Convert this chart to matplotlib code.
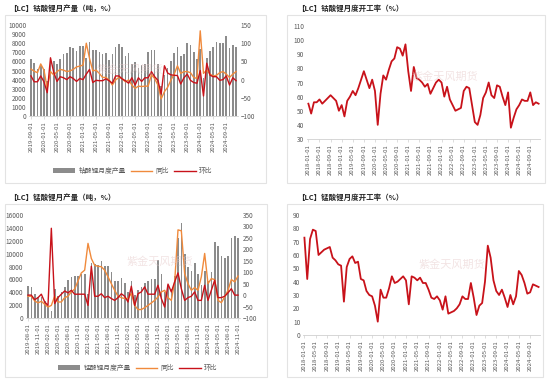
import matplotlib
matplotlib.use("Agg")
import matplotlib.pyplot as plt
from matplotlib.patches import Rectangle, Patch
from matplotlib.lines import Line2D
import numpy as np
import pandas as pd

plt.rcParams['font.family'] = ['Noto Sans CJK SC', 'DejaVu Sans']

# ---------------- data ----------------
# Top-left: cobalt (LCO) monthly production (t), YoY %, MoM %  2019-09 .. 2024-12
co_prod = [6300, 5800, 5200, 5600, 5200, 3900, 6100, 6000, 5700, 6300, 6800, 6900,
           7600, 7500, 7100, 7700, 7700, 6400, 8100, 7300, 7200, 7000, 6800, 6900,
           6200, 6800, 7600, 7900, 7600, 6600, 6900, 5700, 5900, 5300, 5600, 5700,
           7000, 7300, 7200, 5700, 3300, 4500, 5300, 6000, 6900, 7600, 6600, 6800,
           8000, 7800, 7000, 6300, 7400, 4200, 6400, 7100, 7600, 8100, 8000, 8000,
           8800, 7500, 7800, 7600]
co_yoy = [29, 23, 19, 43, 26, -24, 22, 13, 22, 28, 26, 22,
          24, 28, 35, 37, 40, 100, 58, 24, 26, 17, 6, 6,
          -1, -15, -1, 6, 3, -6, -1, -15, -24, -18, -19, -18,
          -18, 13, 3, -15, -53, -33, -21, -1, 15, 38, 17, 22,
          22, 19, 6, 3, 134, 17, 26, 15, 10, 12, 19, 22,
          15, 6, 15, 22]
co_mom = [10, -6, -6, 10, -6, -36, 60, 20, -5, 8, 5, 0,
          8, 3, -5, 3, 0, 15, 28, -8, -2, -3, -3, 2,
          -3, -10, 10, 10, 2, -3, -10, 5, -15, 5, -5, 5,
          5, 22, 8, -2, -40, 38, 18, 13, 12, 11, -12, 5,
          15, -2, -8, -10, 25, -45, 45, 12, 8, 8, -2, 0,
          10, -15, 5, -3]

# Top-right: cobalt utilisation %  2018-01 .. 2024-12
co_util = [55, 48, 56, 56, 58, 55, 57, 59, 61, 59, 57, 50,
           54, 46, 57, 60, 64, 61, 66, 72, 78, 72, 66, 72,
           64, 40, 62, 75, 72, 79, 85, 87, 95, 94, 89, 97,
           78, 64, 81, 73, 72, 70, 67, 69, 62, 66, 70, 72,
           70, 60, 67, 58, 54, 50, 51, 52, 64, 67, 66, 54,
           42, 40, 47, 59, 63, 70, 61, 59, 68, 67, 60, 54,
           63, 38, 45, 51, 54, 58, 57, 57, 63, 54, 56, 55]

# Bottom-left: manganese (LMO) monthly production (t), YoY %, MoM %  2019-08 .. 2024-11
mn_prod = [4900, 4800, 3800, 3200, 3300, 2600, 1900, 1100, 4500, 3400, 4000, 4800,
           5900, 6400, 6500, 6600, 6900, 6800, 3700, 8600, 8400, 8200, 8800, 8100,
           8100, 7200, 5800, 5700, 6200, 5400, 4000, 5700, 3500, 4300, 4800, 5400,
           5700, 6000, 6100, 9000, 6800, 4000, 5100, 4500, 6500, 12400, 14700, 10000,
           8000, 7300, 8500, 6900, 5100, 7300, 5800, 7200, 11800, 11200, 9700, 9300,
           9600, 12400, 12700, 12400]
mn_yoy = [-5, -5, -25, -34, -27, -40, -52, -45, -5, -30, -30, -11,
          -5, 14, 26, 62, 97, 109, 226, 160, 130, 126, 124, 109,
          80, 50, 21, -5, -11, -15, -15, 7, -45, -63, -63, -55,
          -45, -34, -23, -8, 14, 21, -11, -23, 58, 285, 281, 94,
          50, 21, 33, 21, 80, 182, 50, 72, 68, -23, -33, -8,
          21, 68, 58, 83]
mn_mom = [0, 0, -20, -11, 4, -30, -45, 292, -37, -11, 4, 18,
          10, 21, 4, 4, 4, 4, -45, 126, -5, -5, 6, -11,
          -5, -15, -23, -11, 6, -5, -30, 39, -45, 6, 14, 36,
          4, 4, 4, 43, -15, -52, 48, 14, 58, 97, 28, -23,
          -11, -5, 14, -23, -23, 43, -23, 21, 65, -11, -11, -5,
          10, 28, 0, 0]

# Bottom-right: manganese utilisation %  2018-01 .. 2024-12
mn_util = [73, 42, 72, 79, 78, 60, 62, 64, 65, 66, 58, 56,
           53, 52, 25, 51, 57, 59, 54, 55, 42, 41, 33, 30,
           29, 22, 10, 34, 28, 28, 35, 44, 39, 40, 42, 44,
           41, 23, 44, 43, 41, 43, 39, 39, 34, 28, 27, 29,
           26, 19, 29, 16, 17, 18, 20, 23, 29, 27, 27, 39,
           28, 15, 22, 24, 40, 67, 58, 41, 33, 30, 34, 28,
           21, 30, 23, 29, 48, 45, 39, 31, 32, 38, 37, 36]

co_dates = pd.date_range("2019-09-01", periods=len(co_prod), freq="MS").strftime("%Y-%m-%d").tolist()
mn_dates = pd.date_range("2019-08-01", periods=len(mn_prod), freq="MS").strftime("%Y-%m-%d").tolist()
util_dates = pd.date_range("2018-01-01", periods=len(co_util), freq="MS").strftime("%Y-%m-%d").tolist()

titles = ["【LC】钴酸锂月产量（吨，%）", "【LC】钴酸锂月度开工率（%）",
          "【LC】锰酸锂月产量（吨，%）", "【LC】锰酸锂月度开工率（%）"]
legend_co = ["钴酸锂月度产量", "同比", "环比"]
legend_mn = ["锰酸锂月度产量", "同比", "环比"]
watermark = "紫金天风期货"

# ---------------- style ----------------
W, H = 550, 379
BAR = "#8c8c8c"
ORANGE = "#F08A3C"
RED = "#C8121A"
TXT = "#595959"
AXC = "#d0d0d0"
FS = 4.6

fig = plt.figure(figsize=(W / 100, H / 100), dpi=100)
fig.patch.set_facecolor("white")


def box(x0, y0, x1, y1):
    return [x0 / W, 1 - y1 / H, (x1 - x0) / W, (y1 - y0) / H]


def frame(x0, y0, x1, y1):
    fig.patches.append(Rectangle((x0 / W, 1 - y1 / H), (x1 - x0) / W, (y1 - y0) / H,
                                 transform=fig.transFigure, fill=False,
                                 edgecolor="#e3e3e3", linewidth=0.8))


def style_axis(ax):
    for s in ["top", "right", "left"]:
        ax.spines[s].set_visible(False)
    ax.spines["bottom"].set_color(AXC)
    ax.spines["bottom"].set_linewidth(0.6)
    ax.tick_params(axis="y", length=0, labelsize=FS, labelcolor=TXT, pad=2)
    ax.tick_params(axis="x", length=2, width=0.5, color=AXC, labelsize=FS - 0.3,
                   labelcolor=TXT, rotation=90, pad=1.5)


def combo(ax, prod, yoy, mom, dates, step, ylim, yticks, rlim, rticks, legend, lx, ly):
    x = np.arange(len(prod))
    ax.bar(x, prod, width=0.5, color=BAR, zorder=1)
    ax.set_xlim(-0.6, len(prod) - 0.4)
    ax.set_ylim(*ylim)
    ax.set_yticks(yticks)
    ax.set_yticklabels([str(v) for v in yticks])
    ax.set_xticks(x[::step])
    ax.set_xticklabels(dates[::step])
    style_axis(ax)
    ax2 = ax.twinx()
    ax2.plot(x, yoy, color=ORANGE, lw=1.0, zorder=3)
    ax2.plot(x, mom, color=RED, lw=1.0, zorder=4)
    ax2.set_ylim(*rlim)
    ax2.set_yticks(rticks)
    ax2.set_yticklabels([("\u2212" + str(-v)) if v < 0 else str(v) for v in rticks])
    for s in ["top", "right", "left", "bottom"]:
        ax2.spines[s].set_visible(False)
    ax2.tick_params(axis="y", length=0, labelsize=FS, labelcolor=TXT, pad=2)
    handles = [Patch(facecolor=BAR, edgecolor="none"),
               Line2D([], [], color=ORANGE, lw=1.0),
               Line2D([], [], color=RED, lw=1.0)]
    fig.legend(handles, legend, loc="center", bbox_to_anchor=(lx / W, 1 - ly / H),
               ncol=3, frameon=False, fontsize=FS + 0.3, handlelength=3.2,
               handleheight=0.8, columnspacing=0.7, handletextpad=0.5,
               labelcolor=TXT)


def util(ax, vals, dates, ylim, yticks):
    x = np.arange(len(vals))
    ax.plot(x, vals, color=RED, lw=1.3)
    ax.set_xlim(-0.5, len(vals) - 0.5)
    ax.set_ylim(*ylim)
    ax.set_yticks(yticks)
    ax.set_xticks(x[::4])
    ax.set_xticklabels(dates[::4])
    style_axis(ax)


# frames
frame(5, 15, 266, 183)
frame(287, 15, 545, 183)
frame(5, 204, 267, 377)
frame(287, 204, 543, 377)

# titles
for (tx, ty), t in zip([(9, 8), (297, 8), (9, 197), (297, 197)], titles):
    fig.text(tx / W, 1 - ty / H, t, fontsize=5.4, fontweight="bold", color="#262626",
             va="center", ha="left")

# watermarks
for (wx, wy) in [(130, 70), (445, 77), (160, 262), (452, 265)]:
    fig.text(wx / W, 1 - wy / H, watermark, fontsize=8, color="#e6c9c9", alpha=0.5,
             ha="center", va="center", zorder=0)

ax1 = fig.add_axes(box(29, 25, 238, 116))
combo(ax1, co_prod, co_yoy, co_mom, co_dates, 4, (0, 10000), list(range(0, 10001, 1000)),
      (-100, 150), list(range(-100, 151, 50)), legend_co, 133, 171)

ax3 = fig.add_axes(box(26, 215, 240, 318))
combo(ax3, mn_prod, mn_yoy, mn_mom, mn_dates, 3, (0, 16000), list(range(0, 16001, 2000)),
      (-100, 350), list(range(-100, 351, 50)), legend_mn, 138, 368)

ax2 = fig.add_axes(box(307, 26, 540, 139))
util(ax2, co_util, util_dates, (30, 110), list(range(30, 111, 10)))

ax4 = fig.add_axes(box(303, 215, 540, 335))
util(ax4, mn_util, util_dates, (0, 90), list(range(0, 91, 10)))

fig.savefig("out.png", dpi=100, facecolor="white")
